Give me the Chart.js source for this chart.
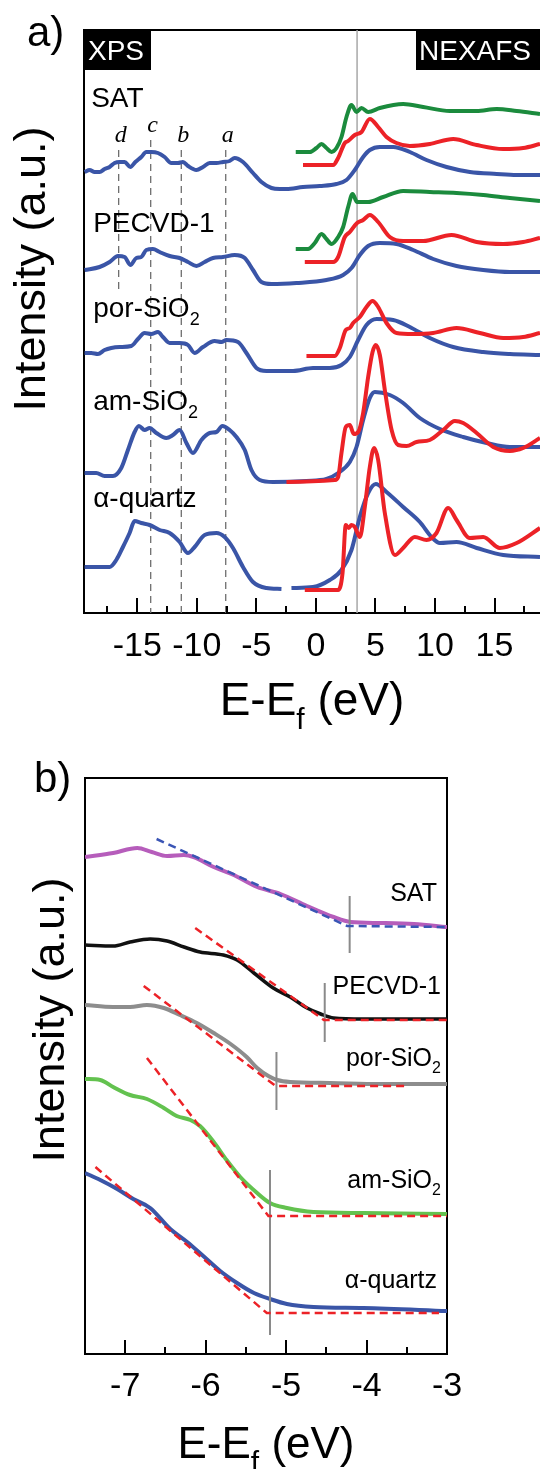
<!DOCTYPE html>
<html lang="en">
<head>
<meta charset="UTF-8" />
<title>XPS / NEXAFS spectra</title>
<style>
  body { margin: 0; background: #fff; }
  #wrap { position: relative; width: 540px; height: 1469px; }
  canvas { position: absolute; left: 0; }
  #chartA { top: 0; }
  #chartB { top: 740px; }
</style>
<script src="https://cdn.jsdelivr.net/npm/chart.js"></script>
</head>
<body>
<div id="wrap">
  <canvas id="chartA" width="540" height="740"></canvas>
  <canvas id="chartB" width="540" height="729"></canvas>
</div>
<script>
// ---------- panel a: valence band (XPS) + NEXAFS, E-Ef in eV, intensity in a.u. ----------
const satBlue = [[-19.42,442],[-19.0,444],[-18.58,442],[-18.16,442],[-17.74,445],[-17.32,447],[-16.9,451],[-16.48,452],[-16.06,452],[-15.58,447],[-15.16,452],[-14.66,457],[-14.24,462],[-13.82,462],[-13.26,461],[-12.7,457],[-12.14,451],[-11.58,451],[-11.16,452],[-10.74,448],[-10.03,444],[-9.48,447],[-8.92,451],[-8.35,451],[-7.8,452],[-7.24,453],[-6.82,456],[-6.12,452],[-5.28,441],[-4.57,432],[-3.73,426],[-3.03,425],[-2.47,425],[-1.08,427],[0.33,428],[1.73,430],[2.57,434],[3.27,444],[3.97,457],[4.53,464],[5.37,467],[6.49,467],[7.89,462],[9.29,454],[10.97,447],[12.93,442],[15.18,440],[16.86,439],[18.82,439]];
const satGreen = [[-1.69,462],[-0.51,462],[0.05,466],[0.47,470],[0.89,466],[1.31,462],[1.73,466],[2.15,477],[2.57,497],[2.99,509],[3.41,502],[3.83,506],[4.39,502],[5.37,506],[7.33,510],[9.01,507],[11.25,503],[13.5,503],[15.18,505],[16.86,503],[18.82,500]];
const satRed = [[-1.08,449],[1.45,449],[1.87,456],[2.43,471],[2.71,473],[3.27,479],[3.83,482],[4.53,495],[5.23,487],[5.93,477],[6.77,471],[7.89,468],[9.57,470],[11.53,475],[13.5,469],[15.73,465],[17.41,466],[18.82,470]];

const pecvdBlue = [[-19.42,344],[-18.16,347],[-17.32,352],[-16.62,358],[-16.06,357],[-15.58,349],[-15.08,356],[-14.66,357],[-14.24,364],[-13.68,365],[-13.12,362],[-12.28,358],[-11.44,356],[-10.74,352],[-10.03,348],[-9.34,352],[-8.64,356],[-7.8,357],[-6.82,359],[-5.97,356],[-5.28,344],[-4.57,332],[-3.73,330],[-1.63,331],[0.89,334],[2.29,339],[2.99,346],[3.69,359],[4.39,368],[5.37,371],[6.77,370],[8.17,364],[9.85,355],[11.81,348],[14.05,344],[16.29,342],[18.82,342]];
const pecvdGreen = [[-1.69,365],[-0.66,365],[-0.09,371],[0.47,380],[0.89,375],[1.31,370],[1.87,377],[2.29,387],[2.71,407],[3.08,420],[3.46,412],[4.39,412],[5.65,417],[7.33,423],[9.57,422],[11.81,421],[14.05,419],[16.29,416],[18.82,413]];
const pecvdRed = [[-0.93,352],[1.45,352],[1.87,357],[2.43,377],[2.85,382],[3.46,391],[3.97,394],[4.53,399],[5.23,392],[6.21,377],[7.33,373],[9.01,373],[11.39,379],[13.5,372],[15.73,370],[17.41,372],[18.82,376]];

const porBlue = [[-19.42,261],[-18.86,261],[-18.3,260],[-17.74,264],[-17.18,266],[-16.48,267],[-15.5,268],[-14.94,275],[-14.38,281],[-13.82,280],[-13.26,282],[-12.84,277],[-12.28,271],[-11.44,271],[-10.74,269],[-10.18,261],[-9.48,267],[-8.5,273],[-7.93,272],[-7.51,274],[-6.54,272],[-5.83,261],[-4.99,246],[-4.15,243],[-1.92,243],[-0.24,246],[1.17,246],[2.15,249],[2.85,257],[3.55,274],[4.25,289],[5.09,295],[6.49,294],[7.89,287],[9.57,276],[11.53,267],[14.05,262],[16.29,260],[18.82,259]];
const porRed = [[-0.79,258],[1.59,258],[2.01,266],[2.51,284],[2.85,286],[3.13,291],[3.69,297],[4.25,307],[4.76,313],[5.23,307],[5.93,291],[6.77,281],[8.17,280],[9.85,281],[11.81,286],[13.77,281],[15.73,276],[17.41,277],[18.82,281]];

const amBlue = [[-19.42,141],[-18.44,141],[-17.74,138],[-17.04,138],[-16.34,146],[-15.78,164],[-15.22,182],[-14.86,188],[-14.38,184],[-13.96,186],[-13.4,181],[-12.56,176],[-12.0,179],[-11.44,184],[-10.87,171],[-10.32,161],[-9.61,174],[-8.92,181],[-8.35,182],[-7.85,188],[-7.24,184],[-6.67,177],[-5.97,164],[-5.41,144],[-4.71,134],[-3.6,132],[-0.79,133],[0.89,135],[1.87,141],[2.85,152],[3.41,167],[3.97,194],[4.53,216],[4.95,222],[6.21,219],[7.33,211],[8.73,196],[10.41,185],[12.37,177],[14.34,171],[16.29,167],[18.82,167]];
const amRed = [[-2.47,132],[1.59,134],[1.87,137],[2.15,161],[2.51,187],[2.85,189],[3.18,180],[3.55,182],[3.97,201],[4.39,237],[4.76,262],[5.03,269],[5.37,259],[5.79,224],[6.36,184],[6.91,169],[7.61,168],[8.45,172],[9.57,174],[10.69,184],[11.67,193],[12.37,191],[13.5,181],[14.89,167],[16.29,163],[17.41,166],[18.82,176]];

const qtzBlue = [[-19.42,47],[-17.32,47],[-16.76,54],[-16.2,67],[-15.64,81],[-15.22,93],[-14.66,91],[-13.96,89],[-13.12,84],[-12.28,81],[-11.44,72],[-10.74,61],[-10.18,67],[-9.34,79],[-8.35,81],[-7.66,77],[-6.96,66],[-6.12,47],[-5.28,32],[-4.15,26],[-2.89,25],[-2.47,null],[-2.05,26],[-0.24,27],[1.17,34],[2.15,44],[2.99,64],[3.69,97],[4.39,121],[5.03,130],[5.93,122],[7.33,107],[8.73,92],[9.71,77],[10.41,71],[11.81,72],[13.5,66],[15.73,59],[18.82,57]];
const qtzRed = [[-0.93,24],[1.87,24],[2.24,41],[2.51,89],[2.76,86],[2.99,89],[3.27,87],[3.69,77],[4.11,107],[4.53,147],[4.89,166],[5.23,154],[5.79,101],[6.63,59],[7.33,66],[8.31,77],[9.29,74],[10.13,81],[11.11,106],[11.81,94],[12.93,76],[14.05,77],[15.45,66],[16.86,71],[18.82,86]];

// peak markers a..d and the NEXAFS edge line
const peakNames = ['d', 'c', 'b', 'a'];
const peakE = [-16.56, -13.87, -11.3, -7.57];
const peakTop = [464, 474, 464, 464];
const peakBottom = [324, 1, 1, 1];
const edgeE = 3.46;

// ---------- panel b: valence band edge with linear fits ----------
const satVb = [[-7.5,505],[-7.15,509],[-6.85,514],[-6.67,510],[-6.48,506],[-6.27,507],[-6.15,505],[-5.9,495],[-5.65,487],[-5.36,475],[-5.07,468],[-4.74,456],[-4.41,445],[-4.2,440],[-3.83,439],[-3.41,438],[-3.0,435]];
const pecvdVb = [[-7.5,417],[-7.15,416],[-6.94,420],[-6.69,423],[-6.48,421],[-6.27,415],[-6.07,410],[-5.78,407],[-5.61,402],[-5.4,389],[-5.16,374],[-4.95,365],[-4.74,354],[-4.57,348],[-4.41,344],[-4.04,343],[-3.62,343],[-3.0,343]];
const porVb = [[-7.5,357],[-7.15,355],[-6.94,355],[-6.73,357],[-6.52,354],[-6.32,347],[-6.11,339],[-5.9,329],[-5.69,318],[-5.49,305],[-5.36,294],[-5.22,286],[-5.11,282],[-4.95,280],[-4.45,279],[-3.83,278],[-3.0,278]];
const amVb = [[-7.5,283],[-7.31,282],[-7.15,275],[-6.94,267],[-6.73,263],[-6.52,254],[-6.36,246],[-6.19,242],[-6.07,236],[-5.9,220],[-5.74,202],[-5.57,185],[-5.36,169],[-5.2,159],[-4.99,154],[-4.66,150],[-4.04,149],[-3.0,148]];
const qtzVb = [[-7.5,189],[-7.31,182],[-7.1,173],[-6.9,163],[-6.69,154],[-6.44,133],[-6.23,120],[-6.03,106],[-5.82,91],[-5.61,79],[-5.4,69],[-5.2,63],[-4.99,58],[-4.66,55],[-4.04,54],[-3.0,51]];

const satFit = [[-6.61,523],[-4.24,436],[-3.0,435]];
const pecvdFit = [[-6.13,434],[-4.53,342],[-3.0,342]];
const porFit = [[-6.77,376],[-5.13,276],[-3.5,276]];
const amFit = [[-6.73,304],[-5.22,146],[-3.0,146]];
const qtzFit = [[-7.37,195],[-5.24,49],[-3.1,49]];

// onset markers: energy, lower and upper end
const onsetE = [-4.21, -4.52, -5.12, -5.2];
const onsetLow = [409, 320, 252, 27];
const onsetHigh = [466, 379, 310, 192];

// ---------- drawing ----------
const SANS = '"Liberation Sans", Arial, Helvetica, sans-serif';
const SERIF_IT = 'italic 24px "Liberation Serif", "Times New Roman", serif';
Chart.defaults.font.family = SANS;
Chart.defaults.color = '#000';

const BLUE = '#3a55a7', RED = '#ec2227', GREEN = '#1b8b3d';

const pts = a => a.map(([x, y]) => ({ x, y }));
const f = px => px + 'px ' + SANS;

function curve(data, color, width, order) {
  return { data: pts(data), borderColor: color, borderWidth: width, pointRadius: 0, fill: false,
           cubicInterpolationMode: 'monotone', spanGaps: false, order: order };
}
function rule(data, color, width, dash, order) {
  return { data: pts(data), borderColor: color, borderWidth: width, borderDash: dash || [], pointRadius: 0,
           fill: false, tension: 0, order: order };
}

// text made of pieces (for subscripts)
function rich(ctx, parts, x, y, align) {
  let w = 0;
  for (const p of parts) { ctx.font = p.f; w += ctx.measureText(p.t).width; }
  let cx = align === 'right' ? x - w : align === 'center' ? x - w / 2 : x;
  for (const p of parts) {
    ctx.font = p.f;
    ctx.fillText(p.t, cx, y + (p.dy || 0));
    cx += ctx.measureText(p.t).width;
  }
}

// inward tick marks on the bottom axis
const innerTicks = {
  id: 'innerTicks',
  afterDatasetsDraw(chart, args, opts) {
    const sx = chart.scales.x, ca = chart.chartArea, ctx = chart.ctx;
    ctx.save();
    ctx.strokeStyle = '#000';
    ctx.lineWidth = 2;
    sx.ticks.forEach(t => {
      const px = Math.round(sx.getPixelForValue(t.value));
      const len = t.label !== '' ? opts.major : opts.minor;
      ctx.beginPath();
      ctx.moveTo(px, ca.bottom);
      ctx.lineTo(px, ca.bottom - len);
      ctx.stroke();
    });
    ctx.restore();
  }
};

function frameScales(xmin, xmax, step, xHeight, labelPad, isMajor, withRight) {
  const edge = { display: true, color: '#000', width: 2 };
  const s = {
    x: {
      type: 'linear', position: 'bottom', min: xmin, max: xmax,
      border: edge,
      grid: { drawOnChartArea: false, drawTicks: false },
      ticks: {
        stepSize: step, includeBounds: false, autoSkip: false, maxRotation: 0,
        padding: labelPad, font: { size: 34 }, color: '#000',
        callback: v => isMajor(v) ? String(v) : ''
      },
      afterFit: sc => { sc.height = xHeight; }
    },
    xTop: {
      type: 'linear', position: 'top', border: edge,
      grid: { drawOnChartArea: false, drawTicks: false }, ticks: { display: false },
      afterFit: sc => { sc.height = 0; }
    },
    y: {
      type: 'linear', position: 'left', border: edge,
      grid: { drawOnChartArea: false, drawTicks: false }, ticks: { display: false },
      afterFit: sc => { sc.width = 0; }
    }
  };
  if (withRight) {
    s.yRight = {
      type: 'linear', position: 'right', border: edge,
      grid: { drawOnChartArea: false, drawTicks: false }, ticks: { display: false },
      afterFit: sc => { sc.width = 0; }
    };
  }
  return s;
}

// ----- chart a -----
const textA = {
  id: 'textA',
  afterDraw(chart) {
    const { ctx, chartArea: ca, scales: { x, y } } = chart;
    ctx.save();
    ctx.textBaseline = 'alphabetic';
    ctx.fillStyle = '#000';

    // sample names
    const L = x.getPixelForValue(-18.7);
    rich(ctx, [{ t: 'SAT', f: f(28) }], L - 2, y.getPixelForValue(507), 'left');
    rich(ctx, [{ t: 'PECVD-1', f: f(28) }], L, y.getPixelForValue(382), 'left');
    rich(ctx, [{ t: 'por-SiO', f: f(28) }, { t: '2', f: f(18), dy: 8 }], L, y.getPixelForValue(297), 'left');
    rich(ctx, [{ t: 'am-SiO', f: f(28) }, { t: '2', f: f(18), dy: 8 }], L, y.getPixelForValue(204), 'left');
    rich(ctx, [{ t: '\u03b1-quartz', f: f(28) }], L, y.getPixelForValue(107), 'left');

    // peak letters
    ctx.font = SERIF_IT;
    ctx.textAlign = 'center';
    peakNames.forEach((n, i) => {
      ctx.fillText(n, x.getPixelForValue(peakE[i]) + 2, y.getPixelForValue(peakTop[i] + 8));
    });
    ctx.textAlign = 'left';

    // XPS / NEXAFS tags
    ctx.fillStyle = '#000';
    ctx.fillRect(ca.left, ca.top, 67, 40);
    ctx.fillRect(416, ca.top, ca.right - 416, 40);
    ctx.fillStyle = '#fff';
    ctx.font = f(28);
    ctx.fillText('XPS', ca.left + 4, ca.top + 30);
    ctx.fillText('NEXAFS', 419, ca.top + 30);

    // panel letter and axis titles
    ctx.fillStyle = '#000';
    ctx.font = f(42);
    ctx.fillText('a)', 27, 46);
    const cx = (ca.left + ca.right) / 2;
    rich(ctx, [{ t: 'E-E', f: f(46) }, { t: 'f', f: f(30), dy: 14 }, { t: ' (eV)', f: f(46) }], cx, 715, 'center');
    ctx.translate(45, 269);
    ctx.rotate(-Math.PI / 2);
    ctx.font = f(45);
    ctx.textAlign = 'center';
    ctx.fillText('Intensity (a.u.)', 0, 0);
    ctx.restore();
  }
};

const guideSets = peakE.map((e, i) => rule([[e, peakTop[i]], [e, peakBottom[i]]], '#6e6e6e', 1.3, [7, 5], 10));
const scalesA = frameScales(-19.47, 18.82, 2.5, 127, 13, v => v % 5 === 0, false);
scalesA.y.min = 1;
scalesA.y.max = 584;

new Chart(document.getElementById('chartA'), {
  type: 'line',
  data: {
    datasets: [
      curve(satRed, RED, 4, 0), curve(satGreen, GREEN, 4, 0), curve(satBlue, BLUE, 4, 1),
      curve(pecvdRed, RED, 4, 0), curve(pecvdGreen, GREEN, 4, 0), curve(pecvdBlue, BLUE, 4, 1),
      curve(porRed, RED, 4, 0), curve(porBlue, BLUE, 4, 1),
      curve(amRed, RED, 4, 0), curve(amBlue, BLUE, 4, 1),
      curve(qtzRed, RED, 4, 0), curve(qtzBlue, BLUE, 4, 1),
      rule([[edgeE, 1], [edgeE, 584]], '#a8a8a8', 1.5, [], 11),
      ...guideSets
    ]
  },
  options: {
    responsive: false, animation: false, devicePixelRatio: 1,
    layout: { padding: { left: 84, top: 30, right: 0, bottom: 0 } },
    scales: scalesA,
    plugins: { legend: { display: false }, tooltip: { enabled: false }, innerTicks: { major: 15, minor: 7 } }
  },
  plugins: [innerTicks, textA]
});

// ----- chart b -----
const textB = {
  id: 'textB',
  afterDraw(chart) {
    const { ctx, chartArea: ca, scales: { x, y } } = chart;
    ctx.save();
    ctx.textBaseline = 'alphabetic';
    ctx.fillStyle = '#000';
    const R = x.getPixelForValue(-3.1);
    rich(ctx, [{ t: 'SAT', f: f(25) }], R - 2, y.getPixelForValue(461), 'right');
    rich(ctx, [{ t: 'PECVD-1', f: f(25) }], R + 2, y.getPixelForValue(368), 'right');
    rich(ctx, [{ t: 'por-SiO', f: f(25) }, { t: '2', f: f(16), dy: 7 }], R + 2, y.getPixelForValue(296), 'right');
    rich(ctx, [{ t: 'am-SiO', f: f(25) }, { t: '2', f: f(16), dy: 7 }], R + 2, y.getPixelForValue(174), 'right');
    rich(ctx, [{ t: '\u03b1-quartz', f: f(25) }], R - 2, y.getPixelForValue(74), 'right');

    ctx.font = f(42);
    ctx.fillText('b)', 34, 52);
    const cx = (ca.left + ca.right) / 2;
    rich(ctx, [{ t: 'E-E', f: f(44) }, { t: 'f', f: f(30), dy: 14 }, { t: ' (eV)', f: f(44) }], cx, 718, 'center');
    ctx.translate(64, 280);
    ctx.rotate(-Math.PI / 2);
    ctx.font = f(45);
    ctx.textAlign = 'center';
    ctx.fillText('Intensity (a.u.)', 0, 0);
    ctx.restore();
  }
};

const onsetSets = onsetE.map((e, i) => rule([[e, onsetLow[i]], [e, onsetHigh[i]]], '#8a8a8a', 2, [], 1));
const scalesB = frameScales(-7.5, -3.0, 0.5, 115, 12, v => Number.isInteger(v), true);
scalesB.y.min = 8;
scalesB.y.max = 584;

new Chart(document.getElementById('chartB'), {
  type: 'line',
  data: {
    datasets: [
      rule(satFit, '#3a55b5', 2.5, [8, 5], 0),
      rule(pecvdFit, RED, 2.5, [8, 5], 0),
      rule(porFit, RED, 2.5, [8, 5], 0),
      rule(amFit, RED, 2.5, [8, 5], 0),
      rule(qtzFit, RED, 2.5, [8, 5], 0),
      ...onsetSets,
      curve(satVb, '#b65dbb', 4, 2),
      curve(pecvdVb, '#111111', 3.5, 2),
      curve(porVb, '#8d8d8d', 4, 2),
      curve(amVb, '#63c24f', 4, 2),
      curve(qtzVb, BLUE, 4, 2)
    ]
  },
  options: {
    responsive: false, animation: false, devicePixelRatio: 1,
    layout: { padding: { left: 85, top: 38, right: 93, bottom: 0 } },
    scales: scalesB,
    plugins: { legend: { display: false }, tooltip: { enabled: false }, innerTicks: { major: 14, minor: 7 } }
  },
  plugins: [innerTicks, textB]
});
</script>
</body>
</html>
